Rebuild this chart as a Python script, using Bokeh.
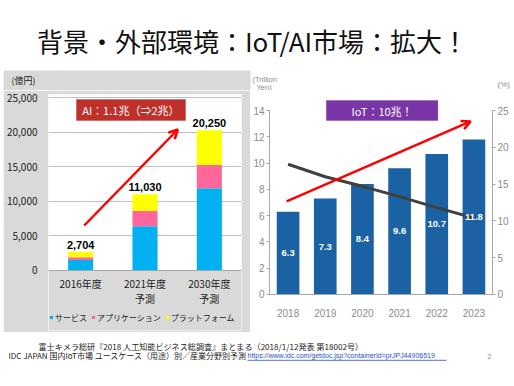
from bokeh.plotting import figure
from bokeh.layouts import column, row
from bokeh.models import (Range1d, FactorRange, Label, Arrow, OpenHead, BoxAnnotation, Span,
                          LinearAxis, NumeralTickFormatter, Legend, LegendItem, ColumnDataSource,
                          FixedTicker, Spacer)
from bokeh.core.properties import value
from bokeh.embed import file_html
from bokeh.resources import INLINE

# ---------------- data ----------------
title_text = "背景・外部環境：IoT/AI市場：拡大！"

ai_categories = ["2016年度", "2021年度予測", "2030年度予測"]
ai_label_line1 = ["2016年度", "2021年度", "2030年度"]
ai_label_line2 = ["", "予測", "予測"]
ai_service = [1500, 6400, 11900]
ai_application = [400, 2200, 3350]
ai_platform = [804, 2430, 5000]
ai_totals = [2704, 11030, 20250]
ai_total_labels = ["2,704", "11,030", "20,250"]
ai_series_names = ["サービス", "アプリケーション", "プラットフォーム"]
ai_ticks = [0, 5000, 10000, 15000, 20000, 25000]
ai_unit = "(億円)"

iot_years = ["2018", "2019", "2020", "2021", "2022", "2023"]
iot_market = [6.3, 7.3, 8.4, 9.6, 10.7, 11.8]
iot_growth = [17.7, 16.0, 14.7, 13.3, 11.8, 10.4]
iot_left_ticks = [0, 2, 4, 6, 8, 10, 12, 14]
iot_right_ticks = [0, 5, 10, 15, 20, 25]

footer1 = "富士キメラ総研『2018 人工知能ビジネス総調査』まとまる（2018/1/12発表 第18002号）"
footer2 = "IDC JAPAN 国内IoT市場 ユースケース（用途）別／産業分野別予測"
footer_link = "https://www.idc.com/getdoc.jsp?containerId=prJPJ44906519"

JP = "Noto Sans CJK JP"
GRAY_PANEL = "#d9d9d9"
W = 512
TH, BH = 90, 52
MH = 332 - TH
BT, BB = 4, 2  # shared top / bottom borders of the two chart figures

# ---------------- title strip (also holds the unit captions) ----------------
top = figure(width=W, height=TH, x_range=Range1d(0, W), y_range=Range1d(0, TH),
             output_backend="svg", toolbar_location=None, min_border=0)
top.axis.visible = False
top.grid.visible = False
top.outline_line_color = None
top.quad(left=[3], right=[250], bottom=[0], top=[TH - 70], color=GRAY_PANEL, line_color=None)
top.add_layout(Label(x=252, y=TH - 40, text=title_text, text_font=JP,
                     text_font_size="26px", text_color="#111111",
                     text_align="center", text_baseline="middle"))
top.add_layout(Label(x=11, y=TH - 80, text=ai_unit, text_font=JP, text_font_size="9px",
                     text_color="#222222", text_baseline="middle"))
top.add_layout(Label(x=252, y=TH - 78.5, text="(Trillion", text_font="Liberation Sans",
                     text_font_size="7.5px", text_color="#8c8c8c", text_baseline="middle"))
top.add_layout(Label(x=256, y=TH - 86.5, text="Yen)", text_font="Liberation Sans",
                     text_font_size="7.5px", text_color="#8c8c8c", text_baseline="middle"))
top.add_layout(Label(x=497, y=TH - 84, text="(%)", text_font="Liberation Sans",
                     text_font_size="8px", text_color="#8c8c8c", text_baseline="middle"))

# ---------------- left: AI market ----------------
LW = 247
left = figure(width=LW, height=MH, x_range=FactorRange(*ai_categories),
              y_range=Range1d(-8671, 25434), output_backend="svg", toolbar_location=None,
              min_border_left=38, min_border_right=9, min_border_top=BT, min_border_bottom=BB)
left.background_fill_color = "white"
left.border_fill_color = GRAY_PANEL
left.outline_line_color = None
left.add_layout(BoxAnnotation(top=0, fill_color=GRAY_PANEL, fill_alpha=1, line_color=None,
                              level="underlay"))

src = ColumnDataSource(dict(cat=ai_categories, s=ai_service, a=ai_application, p=ai_platform,
                            tot=ai_totals, lab=ai_total_labels, l1=ai_label_line1,
                            l2=ai_label_line2, zero=[0] * len(ai_categories)))
colors = ["#00b0f0", "#ff6699", "#ffff00"]
rs = left.vbar_stack(["s", "a", "p"], x="cat", width=0.39, source=src, color=colors,
                     line_color=None)
left.text(x="cat", y="tot", text="lab", source=src, text_align="center",
          text_baseline="bottom", y_offset=-3, text_font=value("Liberation Sans"),
          text_font_style="bold", text_font_size="11px", text_color="black")
left.text(x="cat", y="zero", text="l1", source=src, text_align="center",
          text_baseline="middle", y_offset=13, text_font=value(JP),
          text_font_size="10px", text_color="#222222")
left.text(x="cat", y="zero", text="l2", source=src, text_align="center",
          text_baseline="middle", y_offset=28, text_font=value(JP),
          text_font_size="10px", text_color="#222222")
left.add_layout(Span(location=0, dimension="width", line_color="#a6a6a6", line_width=1))

left.xgrid.visible = False
left.ygrid.grid_line_color = "#bfbfbf"
left.ygrid.ticker = FixedTicker(ticks=ai_ticks)
left.yaxis.ticker = FixedTicker(ticks=ai_ticks)
left.yaxis.formatter = NumeralTickFormatter(format="0,0")
left.yaxis.axis_line_color = None
left.yaxis.major_tick_line_color = None
left.yaxis.minor_tick_line_color = None
left.yaxis.major_label_standoff = 5
left.yaxis.major_label_text_font = JP
left.yaxis.major_label_text_font_size = "10px"
left.yaxis.major_label_text_color = "#222222"
left.xaxis.visible = False

legend = Legend(items=[LegendItem(label=n, renderers=[r]) for n, r in zip(ai_series_names, rs)],
                orientation="horizontal", location=(1, 7), background_fill_alpha=0,
                border_line_color=None, glyph_width=4, glyph_height=4, label_standoff=2,
                spacing=4, padding=1, margin=0, label_text_font=JP, label_height=12,
                label_text_font_size="8px", label_text_color="#222222")
left.add_layout(legend)

left.add_layout(BoxAnnotation(left=0.435, right=2.13, top=24711, bottom=21676,
                              fill_color="#c0302b", fill_alpha=1, line_color="#9e2420",
                              line_width=1))
left.add_layout(Label(x=1.28, y=23194, text="AI：1.1兆（⇒2兆）", text_font=JP,
                      text_font_size="11px", text_color="white", text_align="center",
                      text_baseline="middle"))
left.add_layout(Arrow(x_start=0.555, y_start=6503, x_end=2.01, y_end=20376,
                      line_color="#ff0000", line_width=2.5,
                      end=OpenHead(size=9, line_color="#ff0000", line_width=2.5)))

# ---------------- right: IoT market ----------------
RW = W - 3 - LW
r_lo, r_hi = -2.74, 15.22
right = figure(width=RW, height=MH, x_range=FactorRange(*iot_years),
               y_range=Range1d(r_lo, r_hi), output_backend="svg", toolbar_location=None,
               min_border_left=18, min_border_right=20, min_border_top=BT, min_border_bottom=BB)
right.extra_y_ranges = {"pct": Range1d(r_lo * 25 / 14, r_hi * 25 / 14)}
right.background_fill_color = "white"
right.border_fill_color = "white"
right.outline_line_color = None
right.grid.visible = False

rsrc = ColumnDataSource(dict(yr=iot_years, v=iot_market, half=[v / 2 for v in iot_market],
                             lab=[f"{v:.1f}" for v in iot_market], g=iot_growth,
                             zero=[0] * len(iot_years)))
right.vbar(x="yr", top="v", width=0.61, source=rsrc, color="#1a62a3", line_color=None)
right.line(x="yr", y="g", source=rsrc, y_range_name="pct", line_color="#404040",
           line_width=3)
right.text(x="yr", y="half", text="lab", source=rsrc, text_align="center",
           text_baseline="middle", text_font=value("Liberation Sans"), text_font_style="bold",
           text_font_size="9.5px", text_color="white")
right.text(x="yr", y="zero", text="yr", source=rsrc, text_align="center",
           text_baseline="middle", y_offset=19, text_font=value("Liberation Sans"),
           text_font_size="10px", text_color="#8c8c8c")
right.add_layout(Span(location=0, dimension="width", line_color="#a6a6a6", line_width=1))

right.yaxis[0].ticker = FixedTicker(ticks=iot_left_ticks)
right.yaxis[0].bounds = (0, 14)
ry = LinearAxis(y_range_name="pct", ticker=FixedTicker(ticks=iot_right_ticks), bounds=(0, 25))
right.add_layout(ry, "right")
for ax in [right.yaxis[0], ry]:
    ax.axis_line_color = "#a6a6a6"
    ax.major_tick_line_color = "#a6a6a6"
    ax.major_tick_out = 3
    ax.major_tick_in = 0
    ax.minor_tick_line_color = None
    ax.major_label_standoff = 2
    ax.major_label_text_font = "Liberation Sans"
    ax.major_label_text_font_size = "10px"
    ax.major_label_text_color = "#8c8c8c"
right.xaxis.visible = False

right.add_layout(BoxAnnotation(left=1.53, right=4.53, top=14.76, bottom=13.24,
                               fill_color="#7a36a6", fill_alpha=1, line_color="#5e2a80",
                               line_width=1))
right.add_layout(Label(x=3.03, y=14.0, text="IoT：10兆！", text_font=JP,
                       text_font_size="11px", text_color="white", text_align="center",
                       text_baseline="middle"))
right.add_layout(Arrow(x_start=0.46, y_start=7.08, x_end=5.41, y_end=13.17,
                       line_color="#ff0000", line_width=2.5,
                       end=OpenHead(size=9, line_color="#ff0000", line_width=2.5)))

# ---------------- footer ----------------
bottom = figure(width=W, height=BH, x_range=Range1d(0, W), y_range=Range1d(0, BH),
                output_backend="svg", toolbar_location=None, min_border=0)
bottom.axis.visible = False
bottom.grid.visible = False
bottom.outline_line_color = None
bottom.add_layout(Label(x=38, y=BH - 13.7, text=footer1, text_font=JP, text_font_size="8.1px",
                        text_color="#222222", text_baseline="middle"))
bottom.add_layout(Label(x=8, y=BH - 23.3, text=footer2, text_font=JP, text_font_size="8px",
                        text_color="#222222", text_baseline="middle"))
bottom.add_layout(Label(x=247, y=BH - 23.3, text=footer_link, text_font="Liberation Sans",
                        text_font_size="7px", text_color="#1f4fd0", text_baseline="middle"))
bottom.segment(x0=[247], y0=[BH - 27.8], x1=[446], y1=[BH - 27.8], line_color="#1f4fd0",
               line_width=0.8)
bottom.add_layout(Label(x=487, y=BH - 24, text="2", text_font="Liberation Sans",
                        text_font_size="7px", text_color="#888888", text_baseline="middle"))

page = column(top, row(Spacer(width=3, height=MH), left, right, spacing=0), bottom, spacing=0)
open("out.html", "w").write(file_html(page, INLINE))
